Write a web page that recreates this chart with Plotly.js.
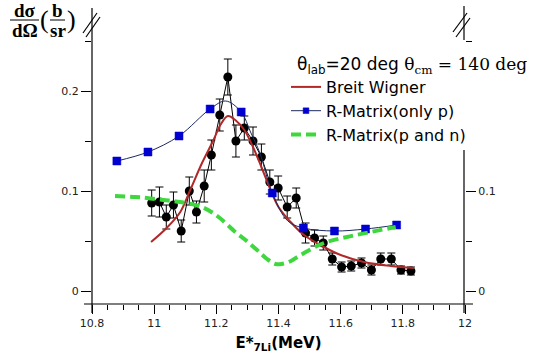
<!DOCTYPE html>
<html>
<head>
<meta charset="utf-8">
<script src="https://cdn.plot.ly/plotly-3.0.1.min.js"></script>
<style>html,body{margin:0;padding:0;background:#fff;}#plot{width:535px;height:354px;}</style>
</head>
<body>
<div id="plot"></div>
<script>
// ---- data ----
const expX = [10.992, 11.017, 11.039, 11.062, 11.087, 11.113, 11.136, 11.161, 11.184, 11.211, 11.237, 11.263, 11.290, 11.318, 11.345, 11.372, 11.399, 11.428, 11.457, 11.487, 11.516, 11.544, 11.573, 11.603, 11.634, 11.667, 11.699, 11.729, 11.763, 11.794, 11.826];
const expY = [0.088, 0.089, 0.074, 0.086, 0.060, 0.100, 0.079, 0.105, 0.136, 0.176, 0.214, 0.150, 0.163, 0.150, 0.134, 0.109, 0.103, 0.084, 0.093, 0.058, 0.053, 0.048, 0.032, 0.024, 0.025, 0.028, 0.021, 0.032, 0.032, 0.021, 0.020];
const expErr = [0.013, 0.015, 0.012, 0.013, 0.011, 0.014, 0.011, 0.016, 0.015, 0.016, 0.018, 0.016, 0.012, 0.014, 0.013, 0.012, 0.012, 0.011, 0.010, 0.010, 0.008, 0.007, 0.006, 0.005, 0.005, 0.005, 0.005, 0.006, 0.006, 0.004, 0.004];

const bwX = [10.990, 11.040, 11.084, 11.116, 11.154, 11.191, 11.213, 11.237, 11.261, 11.290, 11.318, 11.345, 11.372, 11.400, 11.439, 11.482, 11.546, 11.600, 11.675, 11.761, 11.836];
const bwY = [0.049, 0.063, 0.079, 0.101, 0.128, 0.151, 0.166, 0.175, 0.171, 0.161, 0.144, 0.124, 0.103, 0.084, 0.069, 0.056, 0.044, 0.036, 0.029, 0.025, 0.023];

const rmX = [10.88, 10.98, 11.08, 11.18, 11.28, 11.38, 11.48, 11.58, 11.68, 11.78];          // square markers
const rmCurveX = [10.88, 10.98, 11.08, 11.18, 11.23, 11.28, 11.31, 11.34, 11.38, 11.43, 11.48, 11.58, 11.68, 11.78];
const rmCurveY = [0.130, 0.139, 0.155, 0.182, 0.190, 0.179, 0.159, 0.138, 0.098, 0.070, 0.063, 0.060, 0.062, 0.066];

const pnX = [10.874, 10.940, 10.976, 11.030, 11.084, 11.154, 11.207, 11.261, 11.294, 11.331, 11.363, 11.390, 11.410, 11.440, 11.471, 11.546, 11.620, 11.697, 11.777];
const pnY = [0.095, 0.094, 0.093, 0.091, 0.089, 0.084, 0.074, 0.059, 0.051, 0.041, 0.032, 0.027, 0.027, 0.030, 0.036, 0.048, 0.054, 0.059, 0.064];

const xTicks = [10.8, 11, 11.2, 11.4, 11.6, 11.8, 12];
const yTicksLeft = [0, 0.1, 0.2];
const yTicksRight = [0, 0.1];
const seriesNames = ['Breit Wigner', 'R-Matrix(only p)', 'R-Matrix(p and n)'];

// ---- layout helpers (pixel -> paper) ----
const L = 92, R = 465, T = 21, B = 304;
const px = p => (p - L) / (R - L);
const py = p => (B - p) / (B - T);
const seg = (x0, y0, x1, y1, w) => ({type: 'line', xref: 'paper', yref: 'paper',
  x0: px(x0), y0: py(y0), x1: px(x1), y1: py(y1), line: {color: '#000', width: w || 1.2}});

const rmSizes = rmCurveX.map(v => rmX.some(q => Math.abs(q - v) < 1e-6) ? 8 : 0);

const traces = [
  {x: expX, y: expY, type: 'scatter', mode: 'lines+markers', showlegend: false, hoverinfo: 'skip',
   line: {color: '#000', width: 1},
   marker: {color: '#000', size: 9, symbol: 'circle'},
   error_y: {type: 'data', array: expErr, visible: true, color: '#000', thickness: 1, width: 4}},
  {x: bwX, y: bwY, type: 'scatter', mode: 'lines', name: seriesNames[0],
   line: {color: '#b02828', width: 2, shape: 'spline'}},
  {x: rmCurveX, y: rmCurveY, type: 'scatter', mode: 'lines+markers', name: seriesNames[1],
   line: {color: '#1c2a5c', width: 1, shape: 'spline'},
   marker: {color: '#0000d0', size: rmSizes, symbol: 'square', opacity: 1, line: {color: '#0000d0', width: 0.5}}},
  {x: pnX, y: pnY, type: 'scatter', mode: 'lines', name: seriesNames[2], yaxis: 'y2',
   line: {color: '#3ed83e', width: 4, dash: '10px,5px', shape: 'spline'}}
];

const tickFont = {family: 'DejaVu Sans', size: 11, color: '#222'};
const serif = {family: 'Liberation Serif', size: 19, color: '#000'};

const layout = {
  width: 535, height: 354,
  margin: {l: L, r: 535 - R, t: T, b: 354 - B, pad: 0},
  paper_bgcolor: '#fff', plot_bgcolor: '#fff',
  showlegend: true,
  legend: {x: px(286), y: py(70), xanchor: 'left', yanchor: 'top', bgcolor: 'rgba(255,255,255,0)',
           borderwidth: 0, font: {family: 'DejaVu Sans', size: 16, color: '#000'}, tracegroupgap: 0},
  xaxis: {range: [10.8, 12], tickvals: xTicks, ticks: 'outside', ticklen: 9, tickwidth: 1, tickcolor: '#000',
          minor: {dtick: 0.05, tick0: 10.8, ticks: 'outside', ticklen: 5, tickcolor: '#000', tickwidth: 1, showgrid: false},
          showline: false, showgrid: false, zeroline: false, tickfont: tickFont,
          title: {text: '<b>E*<sub>7Li</sub>(MeV)</b>', font: {family: 'DejaVu Sans', size: 15, color: '#000'}, standoff: 8}},
  yaxis: {range: [-0.013, 0.27], tickvals: yTicksLeft, ticktext: yTicksLeft.map(String), ticks: 'outside', ticklen: 10, tickwidth: 1, tickcolor: '#000',
          minor: {tickvals: [0.05, 0.15, 0.25], ticks: 'outside', ticklen: 6, tickcolor: '#000', tickwidth: 1, showgrid: false},
          showline: false, showgrid: false, zeroline: false, tickfont: tickFont},
  yaxis2: {matches: 'y', overlaying: 'y', side: 'right', anchor: 'x', tickvals: yTicksRight, ticktext: yTicksRight.map(String), ticks: 'outside', ticklen: 10, tickwidth: 1, tickcolor: '#000',
           minor: {tickvals: [0.05, 0.25], ticks: 'outside', ticklen: 6, tickcolor: '#000', tickwidth: 1, showgrid: false},
           showline: false, showgrid: false, zeroline: false, tickfont: tickFont},
  shapes: [
    seg(84, 304, 473, 304),
    seg(92, 313, 92, 8),
    seg(464, 313, 464, 150),
    seg(464, 40, 464, 6),
    seg(83, 33, 97, 13), seg(86, 37, 100, 17),
    seg(453, 32, 467, 13), seg(456, 37, 470, 18),
    // y-label fraction bars
    seg(10, 20, 39, 20, 1), seg(50, 20, 65, 20, 1)
  ],
  annotations: [
    {xref: 'paper', yref: 'paper', x: px(24.5), y: py(11), text: '<b>dσ</b>', showarrow: false, font: serif, xanchor: 'center', yanchor: 'middle'},
    {xref: 'paper', yref: 'paper', x: px(24.5), y: py(30), text: '<b>dΩ</b>', showarrow: false, font: serif, xanchor: 'center', yanchor: 'middle'},
    {xref: 'paper', yref: 'paper', x: px(44), y: py(20), text: '(', showarrow: false, font: {family: 'Liberation Serif', size: 26, color: '#000'}, xanchor: 'center', yanchor: 'middle'},
    {xref: 'paper', yref: 'paper', x: px(57.5), y: py(11), text: '<b>b</b>', showarrow: false, font: serif, xanchor: 'center', yanchor: 'middle'},
    {xref: 'paper', yref: 'paper', x: px(57.5), y: py(30), text: '<b>sr</b>', showarrow: false, font: serif, xanchor: 'center', yanchor: 'middle'},
    {xref: 'paper', yref: 'paper', x: px(71), y: py(20), text: ')', showarrow: false, font: {family: 'Liberation Serif', size: 26, color: '#000'}, xanchor: 'center', yanchor: 'middle'},
    {xref: 'paper', yref: 'paper', x: px(295), y: py(65), xanchor: 'left', yanchor: 'middle', showarrow: false,
     text: 'θ<sub>lab</sub>=20 deg <span style="font-family:\'DejaVu Serif\'">θ<sub>cm</sub> = 140 deg</span>',
     font: {family: 'DejaVu Sans', size: 17, color: '#000'}}
  ]
};

Plotly.newPlot('plot', traces, layout, {displayModeBar: false, staticPlot: true});
</script>
</body>
</html>
